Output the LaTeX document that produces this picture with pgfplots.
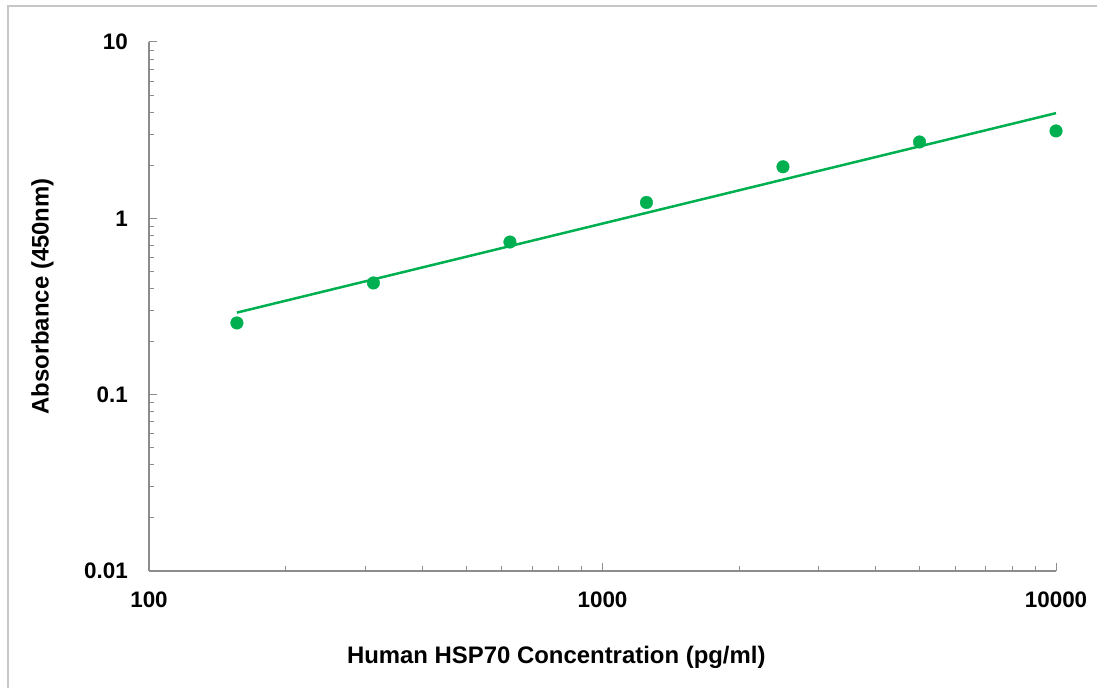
\documentclass[border=0pt]{standalone}
\usepackage{fontspec}
\setmainfont{Liberation Sans}
\usepackage{pgfplots}
\pgfplotsset{compat=1.18}
\definecolor{fitgreen}{RGB}{0,176,80}
\definecolor{axisgray}{RGB}{140,140,140}
\begin{document}
\begin{tikzpicture}[x=1bp,y=1bp]
\useasboundingbox (0,0) rectangle (1097,688);
% frame of the picture (only top and left edges visible)
\draw[black!22, line width=1.5bp] (8,0) -- (8,682) -- (1097,682);
\begin{axis}[
  at={(149bp,117bp)}, anchor=south west,
  scale only axis,
  width=907bp, height=529bp,
  xmode=log, ymode=log,
  xmin=100, xmax=10000,
  ymin=0.01, ymax=10,
  axis lines=left,
  axis line style={-, axisgray, line width=1.3bp},
  tick style={axisgray, line width=1bp},
  tick align=inside,
  major tick length=8bp,
  minor tick length=5bp,
  xtick={100,1000,10000},
  xticklabels={100,1000,10000},
  ytick={0.01,0.1,1,10},
  yticklabels={0.01,0.1,1,10},
  ticklabel style={font=\bfseries\fontsize{22.5}{22.5}\selectfont, inner sep=0pt},
  xticklabel style={anchor=center, yshift=-29bp},
  yticklabel style={anchor=east, xshift=-21bp},
  xlabel={Human HSP70 Concentration (pg/ml)},
  ylabel={Absorbance (450nm)},
  label style={font=\bfseries\fontsize{24}{24}\selectfont, inner sep=0pt},
  xlabel style={at={(axis description cs:0.449,-0.1626)}, anchor=center},
  ylabel style={at={(axis description cs:-0.1174,0.519)}, anchor=center, rotate=0},
  clip=false,
]
% standard curve fit (power trend line)
\addplot[no marks, fitgreen, line width=2.5bp] coordinates {
  (156.25,0.292) (10000,3.95)
};
% measured points
\addplot[only marks, mark=*, mark size=6.3bp, fitgreen, mark options={draw=fitgreen, fill=fitgreen}] coordinates {
  (156.25,0.255)
  (312.5,0.430)
  (625,0.734)
  (1250,1.23)
  (2500,1.96)
  (5000,2.71)
  (10000,3.13)
};
\end{axis}
\end{tikzpicture}
\end{document}
